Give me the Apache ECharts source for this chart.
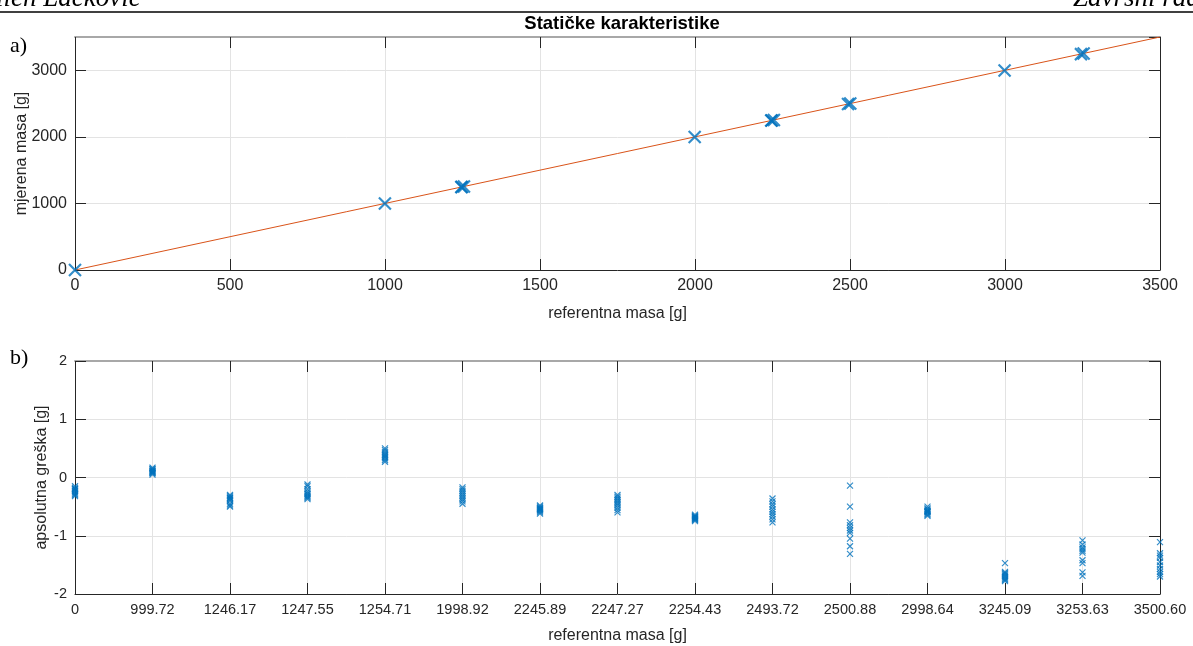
<!DOCTYPE html>
<html>
<head>
<meta charset="utf-8">
<script src="https://cdn.jsdelivr.net/npm/echarts@6/dist/echarts.min.js"></script>
<style>html,body{margin:0;padding:0;background:#fff;}#c{width:1193px;height:646px;}</style>
</head>
<body>
<div id="c"></div>
<script>
// ---- data ----
const refMass = [0, 999.72, 1246.17, 1247.55, 1254.71, 1998.92, 2245.89, 2247.27, 2254.43, 2493.72, 2500.88, 2998.64, 3245.09, 3253.63, 3500.60];
const measuredMass = [0, 1000, 1246, 1247, 1255, 1999, 2245, 2247, 2254, 2493, 2500, 2998, 3243, 3252, 3499];
const fitX = [0, 3500];
const fitY = [0, 3500];
const categories = ['0', '999.72', '1246.17', '1247.55', '1254.71', '1998.92', '2245.89', '2247.27', '2254.43', '2493.72', '2500.88', '2998.64', '3245.09', '3253.63', '3500.60'];
const err_0 = [-0.15, -0.18, -0.20, -0.22, -0.24, -0.26, -0.28, -0.30, -0.32, -0.20];
const err_999_72 = [0.05, 0.07, 0.08, 0.10, 0.11, 0.12, 0.14, 0.15, 0.17, 0.09];
const err_1246_17 = [-0.30, -0.32, -0.34, -0.36, -0.38, -0.40, -0.45, -0.48, -0.50, -0.35];
const err_1247_55 = [-0.12, -0.15, -0.20, -0.24, -0.27, -0.29, -0.31, -0.33, -0.35, -0.37];
const err_1254_71 = [0.27, 0.30, 0.33, 0.35, 0.37, 0.39, 0.41, 0.44, 0.47, 0.50];
const err_1998_92 = [-0.17, -0.20, -0.23, -0.26, -0.29, -0.32, -0.35, -0.38, -0.41, -0.45];
const err_2245_89 = [-0.48, -0.50, -0.52, -0.53, -0.55, -0.56, -0.58, -0.60, -0.62, -0.54];
const err_2247_27 = [-0.30, -0.33, -0.36, -0.39, -0.42, -0.45, -0.48, -0.52, -0.56, -0.60];
const err_2254_43 = [-0.64, -0.66, -0.67, -0.68, -0.69, -0.70, -0.71, -0.72, -0.73, -0.75];
const err_2493_72 = [-0.36, -0.41, -0.46, -0.50, -0.55, -0.59, -0.63, -0.67, -0.72, -0.77];
const err_2500_88 = [-0.14, -0.50, -0.77, -0.82, -0.87, -0.91, -0.95, -1.05, -1.18, -1.31];
const err_2998_64 = [-0.50, -0.53, -0.55, -0.57, -0.59, -0.60, -0.62, -0.64, -0.66, -0.58];
const err_3245_09 = [-1.47, -1.62, -1.64, -1.66, -1.68, -1.70, -1.72, -1.74, -1.76, -1.78];
const err_3253_63 = [-1.08, -1.15, -1.20, -1.23, -1.26, -1.29, -1.42, -1.47, -1.63, -1.69];
const err_3500_60 = [-1.11, -1.30, -1.34, -1.38, -1.45, -1.51, -1.57, -1.62, -1.66, -1.70];
const errors = [err_0, err_999_72, err_1246_17, err_1247_55, err_1254_71, err_1998_92, err_2245_89, err_2247_27, err_2254_43, err_2493_72, err_2500_88, err_2998_64, err_3245_09, err_3253_63, err_3500_60];
const topXTicks = { min: 0, max: 3500, interval: 500 };
const topYTicks = { min: 0, max: 3500, interval: 1000 };
const botYTicks = { min: -2, max: 2, interval: 1 };

// ---- build ----
const topScatter = refMass.map((r, i) => [r, measuredMass[i]]);
const fitLine = fitX.map((x, i) => [x, fitY[i]]);
const errScatter = [];
errors.forEach((arr, i) => arr.forEach(v => errScatter.push([i, v])));

const FONT = '"Liberation Sans", Arial, Helvetica, sans-serif';
const TXT = '#262626';
const GRIDC = '#e3e3e3';
const XMARK = 'path://M0,0L10,10M10,0L0,10';
const plain = v => String(v);

function mainX(gi, extra) {
  return Object.assign({
    gridIndex: gi, position: 'bottom',
    axisLine: { show: true, onZero: false, lineStyle: { color: TXT, width: 1 } },
    axisTick: { show: true, inside: true, length: 11, lineStyle: { color: TXT } },
    splitLine: { show: true, lineStyle: { color: GRIDC, width: 1 } },
    nameLocation: 'middle', nameMoveOverlap: false,
    nameTextStyle: { color: TXT, fontFamily: FONT, fontSize: 16 }
  }, extra);
}
function boxX(gi, extra) {
  return Object.assign({
    gridIndex: gi, position: 'top',
    axisLine: { show: true, onZero: false, lineStyle: { color: '#a8a8a8', width: 2 } },
    axisTick: { show: true, inside: true, length: 11, lineStyle: { color: TXT } },
    axisLabel: { show: false }, splitLine: { show: false }
  }, extra);
}
function mainY(gi, extra) {
  return Object.assign({
    gridIndex: gi, type: 'value', position: 'left',
    axisLine: { show: true, onZero: false, lineStyle: { color: TXT, width: 1 } },
    axisTick: { show: true, inside: true, length: 11, lineStyle: { color: TXT } },
    splitLine: { show: true, lineStyle: { color: GRIDC, width: 1 } },
    nameLocation: 'middle', nameMoveOverlap: false,
    nameTextStyle: { color: TXT, fontFamily: FONT, fontSize: 16 }
  }, extra);
}
function boxY(gi, extra) {
  return Object.assign({
    gridIndex: gi, type: 'value', position: 'right',
    axisLine: { show: true, onZero: false, lineStyle: { color: TXT, width: 1 } },
    axisTick: { show: true, inside: true, length: 11, lineStyle: { color: TXT } },
    axisLabel: { show: false }, splitLine: { show: false }
  }, extra);
}

const chart = echarts.init(document.getElementById('c'), null, { renderer: 'canvas' });
chart.setOption({
  animation: false,
  backgroundColor: '#fff',
  title: {
    text: 'Statičke karakteristike', left: 617, top: 9, textAlign: 'center',
    textStyle: { fontFamily: FONT, fontWeight: 'bold', fontSize: 18.5, color: '#000' }
  },
  grid: [
    { left: 75, right: 33, top: 37, height: 233, outerBoundsMode: 'none', containLabel: false },
    { left: 75, right: 33, top: 361, height: 233, outerBoundsMode: 'none', containLabel: false }
  ],
  xAxis: [
    mainX(0, { type: 'value', min: topXTicks.min, max: topXTicks.max, interval: topXTicks.interval,
      name: 'referentna masa [g]', nameGap: 36,
      axisLabel: { color: TXT, fontFamily: FONT, fontSize: 16, margin: 8, formatter: plain } }),
    boxX(0, { type: 'value', min: topXTicks.min, max: topXTicks.max, interval: topXTicks.interval }),
    mainX(1, { type: 'category', data: categories, boundaryGap: false,
      name: 'referentna masa [g]', nameGap: 34,
      axisLabel: { color: TXT, fontFamily: FONT, fontSize: 14.5, margin: 8, interval: 0 },
      axisTick: { show: true, inside: true, length: 11, interval: 0, lineStyle: { color: TXT } },
      splitLine: { show: true, interval: 0, lineStyle: { color: GRIDC, width: 1 } } }),
    boxX(1, { type: 'category', data: categories, boundaryGap: false,
      axisTick: { show: true, inside: true, length: 11, interval: 0, lineStyle: { color: TXT } } })
  ],
  yAxis: [
    mainY(0, { min: topYTicks.min, max: topYTicks.max, interval: topYTicks.interval,
      name: 'mjerena masa [g]', nameGap: 45,
      axisLabel: { color: TXT, fontFamily: FONT, fontSize: 16, margin: 8, showMaxLabel: false, formatter: plain } }),
    boxY(0, { min: topYTicks.min, max: topYTicks.max, interval: topYTicks.interval }),
    mainY(1, { min: botYTicks.min, max: botYTicks.max, interval: botYTicks.interval,
      name: 'apsolutna greška [g]', nameGap: 25,
      axisLabel: { color: TXT, fontFamily: FONT, fontSize: 14.5, margin: 8 } }),
    boxY(1, { min: botYTicks.min, max: botYTicks.max, interval: botYTicks.interval })
  ],
  series: [
    { type: 'line', xAxisIndex: 0, yAxisIndex: 0, data: fitLine, showSymbol: false, symbol: 'none',
      lineStyle: { color: '#D95319', width: 1 }, z: 2 },
    { type: 'scatter', xAxisIndex: 0, yAxisIndex: 0, data: topScatter, symbol: XMARK, symbolSize: 12,
      itemStyle: { color: 'rgba(0,0,0,0)', borderColor: '#0072BD', borderWidth: 2.2 }, z: 3 },
    { type: 'scatter', xAxisIndex: 2, yAxisIndex: 2, data: errScatter, symbol: XMARK, symbolSize: 6,
      itemStyle: { color: 'rgba(0,0,0,0)', borderColor: '#0072BD', borderWidth: 1.2 }, z: 3 }
  ],
  graphic: [
    { type: 'line', shape: { x1: 0, y1: 12, x2: 1193, y2: 12 }, style: { stroke: '#000', lineWidth: 1.5 } },
    { type: 'text', left: -4, top: -15, style: { text: 'ilen Lacković', font: 'italic 27px "Liberation Serif", serif', fill: '#000' } },
    { type: 'text', left: 1073, top: -15, style: { text: 'Završni rad', font: 'italic 27px "Liberation Serif", serif', fill: '#000' } },
    { type: 'text', left: 10, top: 35, style: { text: 'a)', font: '22px "Liberation Serif", serif', fill: '#000' } },
    { type: 'text', left: 10, top: 347, style: { text: 'b)', font: '22px "Liberation Serif", serif', fill: '#000' } }
  ]
});
</script>
</body>
</html>
